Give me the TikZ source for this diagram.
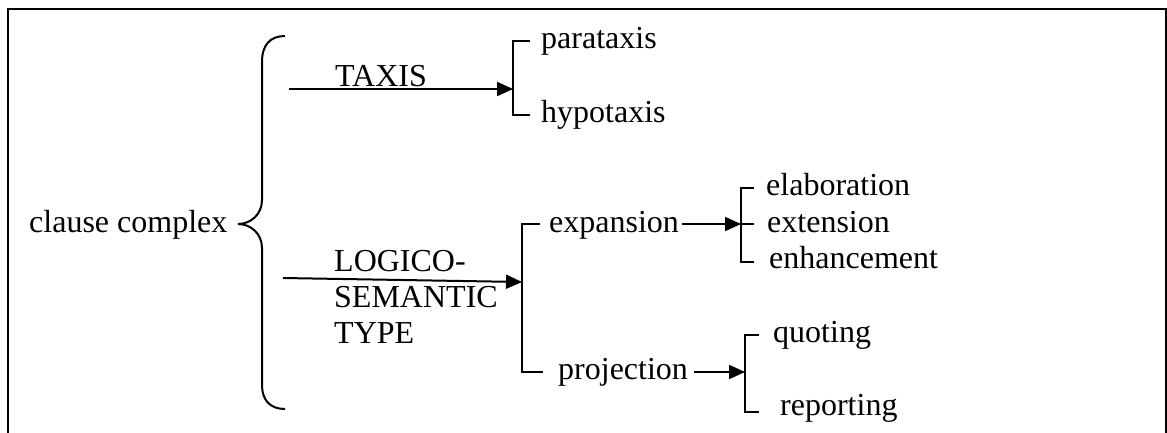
\documentclass[tikz,border=0pt]{standalone}
\usepackage{fontspec}
\setmainfont{Liberation Serif}
\usetikzlibrary{arrows.meta}
\begin{document}
\begin{tikzpicture}[x=1pt,y=-1pt,
  lbl/.style={anchor=base west,inner sep=0pt,font=\fontsize{32}{36}\selectfont},
  conn/.style={line width=2pt},
  arr/.style={conn,-{Triangle[length=16pt,width=14pt]}},
  brk/.style={line width=2pt}]
\useasboundingbox (0,0) rectangle (1167,432);
% open frame
\draw[line width=2.2pt] (8,445) -- (8,9) -- (1166,9) -- (1166,445);

% labels
\node[lbl] (cc) at (29,232) {clause complex};
\node[lbl] (taxis) at (335,86) {TAXIS};
\node[lbl] (lst1) at (334,271) {LOGICO-};
\node[lbl] (lst2) at (334,307) {SEMANTIC};
\node[lbl] (lst3) at (334,343) {TYPE};
\node[lbl] (para) at (541,48) {parataxis};
\node[lbl] (hypo) at (541,122) {hypotaxis};
\node[lbl] (expa) at (549,232) {expansion};
\node[lbl] (proj) at (558,379) {projection};
\node[lbl] (elab) at (766,195) {elaboration};
\node[lbl] (exte) at (767,232) {extension};
\node[lbl] (enha) at (769,268) {enhancement};
\node[lbl] (quot) at (773,342) {quoting};
\node[lbl] (repo) at (780,415) {reporting};

% curly brace after "clause complex"
\draw[conn] (285,36) .. controls (270,36) and (262,45) .. (262,62)
  -- (262,200) .. controls (262,215) and (250,224) .. (238,224)
  .. controls (250,224) and (262,233) .. (262,248)
  -- (262,385) .. controls (262,400) and (270,409) .. (285,409);

% bracket points
\coordinate (b1t) at (513,41);  \coordinate (b1b) at (513,115); \coordinate (b1m) at (513,89);
\coordinate (b2t) at (522,224); \coordinate (b2b) at (522,372); \coordinate (b2m) at (522,282);
\coordinate (b3t) at (741,188); \coordinate (b3b) at (741,262); \coordinate (b3m) at (741,224);
\coordinate (b4t) at (745,335); \coordinate (b4b) at (745,412); \coordinate (b4m) at (745,372);

% brackets
\draw[brk] ([xshift=17pt]b1t) -- (b1t) -- (b1b) -- ([xshift=17pt]b1b);
\draw[brk] ([xshift=18pt]b2t) -- (b2t) -- (b2b) -- ([xshift=21pt]b2b);
\draw[brk] ([xshift=13pt]b3t) -- (b3t) -- (b3b) -- ([xshift=13pt]b3b);
\draw[brk] (b3m) -- ([xshift=13pt]b3m);
\draw[brk] ([xshift=14pt]b4t) -- (b4t) -- (b4b) -- ([xshift=14pt]b4b);

% arrows
\coordinate (a1) at (289,89);
\coordinate (a2) at (283,278);
\draw[arr] (a1) -- (b1m);
\draw[arr] (a2) -- (b2m);
\draw[arr] (expa.east |- b3m) ++(3,0) -- (b3m);
\draw[arr] ([xshift=6pt]proj.east |- b4m) -- (b4m);
\end{tikzpicture}
\end{document}
